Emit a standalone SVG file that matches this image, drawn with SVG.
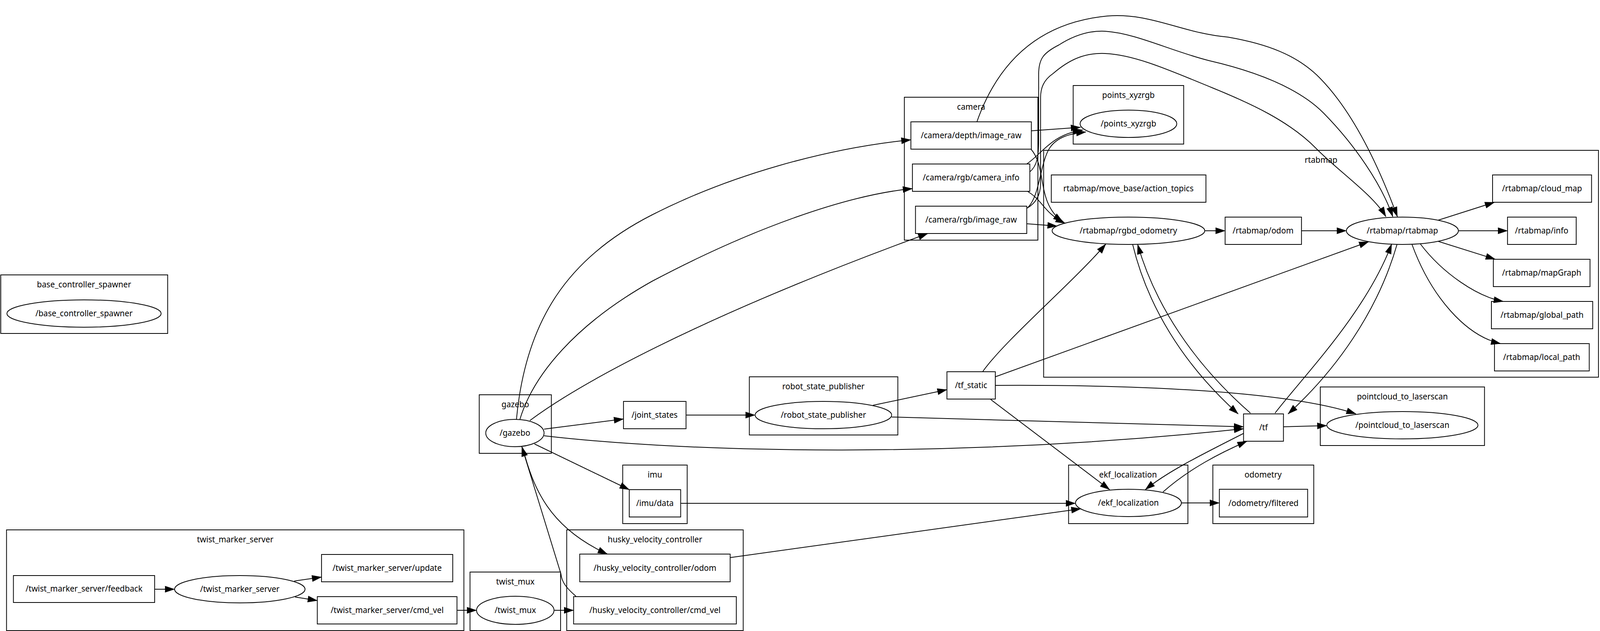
<svg xmlns="http://www.w3.org/2000/svg" width="4170" height="1616" viewBox="0 0 4170 1616">
<style>
.cl{fill:none;stroke:#000;stroke-width:2}
.nd{fill:none;stroke:#000;stroke-width:2}
text{font-family:"Noto Sans","Open Sans",sans-serif;font-size:21px;text-anchor:middle;fill:#000}
.e{fill:none;stroke:#000;stroke-width:2;marker-end:url(#ah)}
</style>
<defs>
<marker id="ah" markerUnits="userSpaceOnUse" viewBox="0 0 26 17" markerWidth="26" markerHeight="17" refX="25" refY="8.5" orient="auto" overflow="visible">
<path d="M0,0 L26,8.5 L0,17 z" fill="#000"/>
</marker>
</defs>
<rect width="4170" height="1616" fill="#fff"/>
<g id="diagram" transform="scale(0.98225,1)">

<g id="cl_base_controller_spawner">
<rect class="cl" x="2" y="704" width="435" height="150"/>
<text x="219" y="736">base_controller_spawner</text>
<g id="n_base_controller_spawner"><ellipse class="nd" cx="219" cy="803" rx="201" ry="35"/><text x="219" y="810">/base_controller_spawner</text></g>
</g>

<g id="cl_twist_marker_server">
<rect class="cl" x="17" y="1357" width="1192" height="258"/>
<text x="613" y="1389">twist_marker_server</text>
<g id="n_twist_marker_server_feedback"><rect class="nd" x="35" y="1474" width="368" height="69"/><text x="219" y="1515">/twist_marker_server/feedback</text></g>
<g id="n_twist_marker_server"><ellipse class="nd" cx="625" cy="1509" rx="170" ry="35"/><text x="625" y="1516">/twist_marker_server</text></g>
<g id="n_twist_marker_server_update"><rect class="nd" x="838" y="1420" width="342" height="70"/><text x="1009" y="1462">/twist_marker_server/update</text></g>
<g id="n_twist_marker_server_cmd_vel"><rect class="nd" x="827" y="1528" width="364" height="70"/><text x="1009" y="1570">/twist_marker_server/cmd_vel</text></g>
</g>

<g id="cl_twist_mux">
<rect class="cl" x="1225" y="1465" width="236" height="150"/>
<text x="1343" y="1497">twist_mux</text>
<g id="n_twist_mux"><ellipse class="nd" cx="1343" cy="1563" rx="101" ry="36"/><text x="1343" y="1570">/twist_mux</text></g>
</g>

<g id="cl_husky_velocity_controller">
<rect class="cl" x="1477" y="1357" width="460" height="258"/>
<text x="1707" y="1389">husky_velocity_controller</text>
<g id="n_husky_odom"><rect class="nd" x="1511" y="1419" width="392" height="71"/><text x="1707" y="1462">/husky_velocity_controller/odom</text></g>
<g id="n_husky_cmd_vel"><rect class="nd" x="1495" y="1528" width="424" height="70"/><text x="1707" y="1570">/husky_velocity_controller/cmd_vel</text></g>
</g>

<g id="cl_gazebo">
<rect class="cl" x="1249" y="1011" width="188" height="150"/>
<text x="1343" y="1043">gazebo</text>
<g id="n_gazebo"><ellipse class="nd" cx="1342" cy="1109" rx="76" ry="35"/><text x="1342" y="1116">/gazebo</text></g>
</g>

<g id="n_joint_states"><rect class="nd" x="1625" y="1028" width="163" height="70"/><text x="1706" y="1070">/joint_states</text></g>

<g id="cl_imu">
<rect class="cl" x="1623" y="1191" width="168" height="150"/>
<text x="1707" y="1223">imu</text>
<g id="n_imu_data"><rect class="nd" x="1640" y="1254" width="134" height="70"/><text x="1707" y="1296">/imu/data</text></g>
</g>

<g id="cl_robot_state_publisher">
<rect class="cl" x="1953" y="965" width="387" height="149"/>
<text x="2146" y="997">robot_state_publisher</text>
<g id="n_robot_state_publisher"><ellipse class="nd" cx="2146" cy="1063" rx="178" ry="35"/><text x="2146" y="1070">/robot_state_publisher</text></g>
</g>

<g id="n_tf_static"><rect class="nd" x="2468" y="952" width="126" height="70"/><text x="2531" y="994">/tf_static</text></g>

<g id="cl_camera">
<rect class="cl" x="2357" y="249" width="348" height="366"/>
<text x="2531" y="281">camera</text>
<g id="n_camera_depth_image_raw"><rect class="nd" x="2374" y="312" width="314" height="70"/><text x="2531" y="354">/camera/depth/image_raw</text></g>
<g id="n_camera_rgb_camera_info"><rect class="nd" x="2378" y="420" width="306" height="70"/><text x="2531" y="462">/camera/rgb/camera_info</text></g>
<g id="n_camera_rgb_image_raw"><rect class="nd" x="2386" y="528" width="290" height="70"/><text x="2531" y="570">/camera/rgb/image_raw</text></g>
</g>

<g id="cl_points_xyzrgb">
<rect class="cl" x="2797" y="219" width="288" height="150"/>
<text x="2941" y="251">points_xyzrgb</text>
<g id="n_points_xyzrgb"><ellipse class="nd" cx="2941" cy="317" rx="126" ry="35"/><text x="2941" y="324">/points_xyzrgb</text></g>
</g>

<g id="cl_rtabmap">
<rect class="cl" x="2720" y="385" width="1446" height="581"/>
<text x="3443" y="417">rtabmap</text>
<g id="n_rtabmap_move_base_action_topics"><rect class="nd" x="2740" y="448" width="403" height="70"/><text x="2941" y="490">rtabmap/move_base/action_topics</text></g>
<g id="n_rtabmap_rgbd_odometry"><ellipse class="nd" cx="2941" cy="591" rx="199" ry="35"/><text x="2941" y="598">/rtabmap/rgbd_odometry</text></g>
<g id="n_rtabmap_odom"><rect class="nd" x="3193" y="556" width="199" height="70"/><text x="3292" y="598">/rtabmap/odom</text></g>
<g id="n_rtabmap_rtabmap"><ellipse class="nd" cx="3655" cy="591" rx="146" ry="35"/><text x="3655" y="598">/rtabmap/rtabmap</text></g>
<g id="n_rtabmap_cloud_map"><rect class="nd" x="3890" y="448" width="258" height="70"/><text x="4019" y="490">/rtabmap/cloud_map</text></g>
<g id="n_rtabmap_info"><rect class="nd" x="3929" y="556" width="179" height="70"/><text x="4018" y="598">/rtabmap/info</text></g>
<g id="n_rtabmap_mapGraph"><rect class="nd" x="3892" y="664" width="252" height="70"/><text x="4018" y="706">/rtabmap/mapGraph</text></g>
<g id="n_rtabmap_global_path"><rect class="nd" x="3887" y="772" width="264" height="70"/><text x="4019" y="814">/rtabmap/global_path</text></g>
<g id="n_rtabmap_local_path"><rect class="nd" x="3895" y="880" width="247" height="70"/><text x="4018" y="922">/rtabmap/local_path</text></g>
</g>

<g id="cl_pointcloud_to_laserscan">
<rect class="cl" x="3441" y="991" width="428" height="150"/>
<text x="3655" y="1023">pointcloud_to_laserscan</text>
<g id="n_pointcloud_to_laserscan"><ellipse class="nd" cx="3655" cy="1089" rx="197" ry="35"/><text x="3655" y="1096">/pointcloud_to_laserscan</text></g>
</g>

<g id="n_tf"><rect class="nd" x="3241" y="1060" width="104" height="70"/><text x="3293" y="1102">/tf</text></g>

<g id="cl_ekf_localization">
<rect class="cl" x="2785" y="1191" width="311" height="150"/>
<text x="2940" y="1223">ekf_localization</text>
<g id="n_ekf_localization"><ellipse class="nd" cx="2941" cy="1288" rx="138" ry="35"/><text x="2941" y="1295">/ekf_localization</text></g>
</g>

<g id="cl_odometry">
<rect class="cl" x="3161" y="1191" width="263" height="150"/>
<text x="3292" y="1223">odometry</text>
<g id="n_odometry_filtered"><rect class="nd" x="3178" y="1253" width="230" height="71"/><text x="3293" y="1296">/odometry/filtered</text></g>
</g>

<g id="edges">
<path class="e" d="M403,1509 L455,1509"/>
<path class="e" d="M767,1488 L838,1478"/>
<path class="e" d="M769,1529 L827,1538"/>
<path class="e" d="M1191,1563 L1242,1563"/>
<path class="e" d="M1444,1563 L1495,1563"/>
<path class="e" d="M1501,1527 C1475,1505 1464,1490 1462,1470 L1360,1144"/>
<path class="e" d="M1362,1146 C1390,1250 1430,1350 1583,1419"/>
<path class="e" d="M1418,1099 L1625,1073"/>
<path class="e" d="M1393,1137 L1640,1254"/>
<path class="e" d="M1418,1116 C1800,1160 2500,1175 3241,1098"/>
<path class="e" d="M1788,1063 L1968,1063"/>
<path class="e" d="M2275,1038 L2468,998"/>
<path class="e" d="M2324,1068 L3241,1093"/>
<path class="e" d="M2561,952 C2620,870 2800,720 2882,625"/>
<path class="e" d="M2594,965 L3567,619"/>
<path class="e" d="M2594,987 C2950,985 3350,1000 3534,1060"/>
<path class="e" d="M2582,1023 L2892,1254"/>
<path class="e" d="M3241,1110 C3120,1170 3040,1210 2985,1254"/>
<path class="e" d="M3031,1260 C3100,1200 3180,1160 3250,1130"/>
<path class="e" d="M3345,1093 L3458,1090"/>
<path class="e" d="M3079,1288 L3178,1288"/>
<path class="e" d="M1774,1289 L2803,1289"/>
<path class="e" d="M1903,1428 L2817,1303"/>
<path class="e" d="M2952,626 C2990,780 3080,930 3227,1060"/>
<path class="e" d="M3259,1058 C3110,930 3010,780 2965,626"/>
<path class="e" d="M3641,626 C3590,800 3480,950 3357,1060"/>
<path class="e" d="M3323,1058 C3400,960 3560,800 3627,625"/>
<path class="e" d="M3140,591 L3193,591"/>
<path class="e" d="M3392,591 L3509,591"/>
<path class="e" d="M3748,564 L3895,518"/>
<path class="e" d="M3801,591 L3929,591"/>
<path class="e" d="M3748,618 L3897,664"/>
<path class="e" d="M3702,625 C3760,700 3850,760 3918,772"/>
<path class="e" d="M3680,626 C3730,760 3820,860 3911,880"/>
<path class="e" d="M1346,1074 C1370,820 1480,660 1700,550 C1900,450 2150,380 2374,358"/>
<path class="e" d="M1355,1074 C1390,960 1500,830 1700,720 C1950,590 2200,500 2378,483"/>
<path class="e" d="M1381,1077 C1500,990 1800,820 2418,598"/>
<path class="e" d="M2688,335 L2816,326"/>
<path class="e" d="M2676,420 C2720,390 2740,345 2822,333"/>
<path class="e" d="M2677,533 C2710,505 2710,420 2735,380 C2755,350 2790,342 2830,338"/>
<path class="e" d="M2687,382 C2730,430 2700,520 2770,568"/>
<path class="e" d="M2678,490 C2720,515 2720,545 2776,572"/>
<path class="e" d="M2676,573 L2755,579"/>
<path class="e" d="M2546,312 C2590,190 2680,60 2886,41 C3000,32 3080,85 3200,95 C3300,112 3380,140 3440,200 C3530,290 3595,430 3642,555"/>
<path class="e" d="M2684,440 C2703,425 2707,400 2707,360 L2707,190 C2707,150 2720,135 2760,115 C2800,90 2840,78 2880,80 C2960,85 3050,130 3150,155 C3260,180 3380,220 3450,290 C3530,370 3600,470 3630,555"/>
<path class="e" d="M2677,533 C2700,520 2712,500 2712,470 L2712,250 C2712,225 2720,205 2745,188 C2790,150 2830,135 2880,137 C2960,140 3060,185 3160,225 C3260,265 3360,310 3430,380 C3490,440 3580,500 3612,555"/>
</g>
</g>
</svg>
